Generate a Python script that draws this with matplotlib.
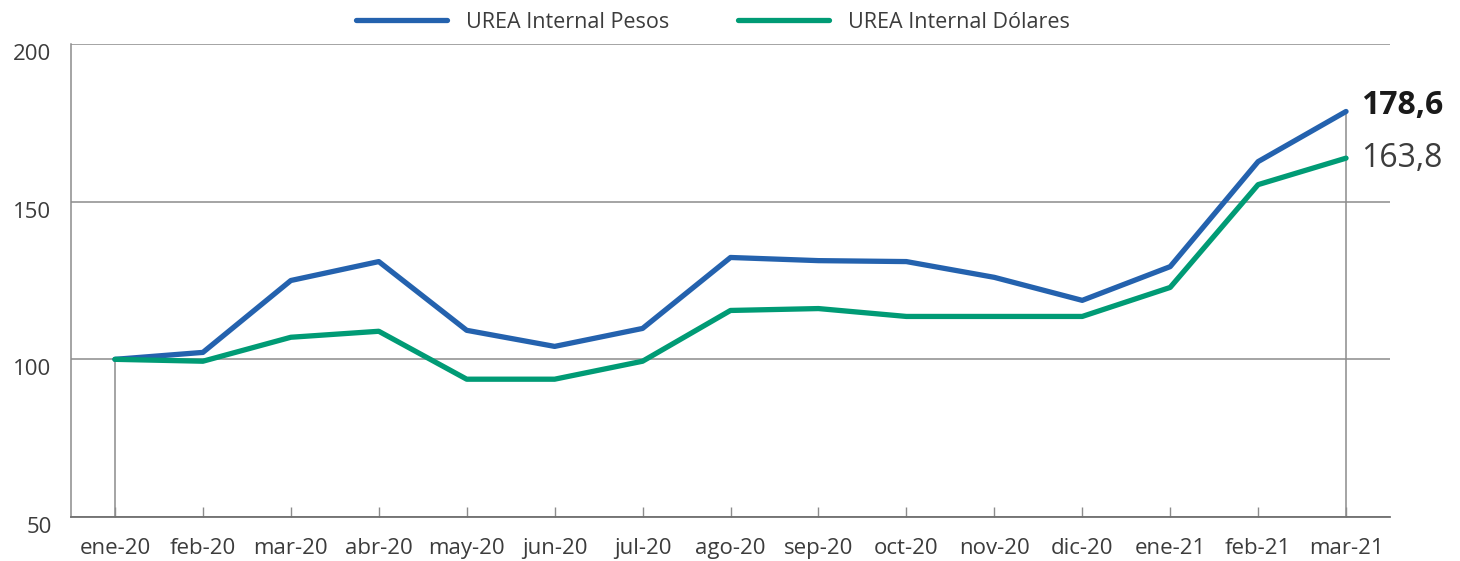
import matplotlib.pyplot as plt
from matplotlib.transforms import ScaledTranslation

# data
months = ['ene-20', 'feb-20', 'mar-20', 'abr-20', 'may-20', 'jun-20', 'jul-20', 'ago-20',
          'sep-20', 'oct-20', 'nov-20', 'dic-20', 'ene-21', 'feb-21', 'mar-21']
pesos = [100, 102.2, 125.0, 131.0, 109.2, 104.1, 109.8, 132.3,
         131.3, 131.0, 126.0, 118.7, 129.4, 162.7, 178.6]
dolares = [100, 99.4, 107.0, 108.9, 93.7, 93.7, 99.4, 115.5,
           116.1, 113.6, 113.6, 113.6, 122.8, 155.4, 163.8]
yticks = [50, 100, 150, 200]

BLUE = '#2462AE'
GREEN = '#009B75'
GRID = '#8c8c8c'
TXT = '#3c3c3c'

plt.rcParams['font.family'] = ['Open Sans', 'DejaVu Sans']

fig = plt.figure(figsize=(14.6, 5.61), dpi=100)
ax = fig.add_axes([71 / 1460, 1 - 517 / 561, (1390 - 71) / 1460, (517 - 44) / 561])

x = list(range(len(months)))
ax.plot(x, pesos, color=BLUE, lw=3.8, solid_capstyle='round', solid_joinstyle='round',
        label='UREA Internal Pesos', zorder=3)
ax.plot(x, dolares, color=GREEN, lw=3.8, solid_capstyle='round', solid_joinstyle='round',
        label='UREA Internal Dólares', zorder=3)

# drop lines at first and last month
ax.vlines([x[0]], 50, pesos[0], color=GRID, lw=1.1, zorder=1)
ax.vlines([x[-1]], 50, pesos[-1], color=GRID, lw=1.1, zorder=1)

ax.set_xlim(-0.5, 14.5)
ax.set_ylim(50, 200)
ax.set_yticks(yticks)
ax.set_xticks(x)
ax.set_xticklabels(months)
ax.yaxis.grid(True, color=GRID, lw=1.1)
ax.set_axisbelow(True)

for s in ['top', 'right']:
    ax.spines[s].set_visible(False)
ax.spines['left'].set_color(GRID)
ax.spines['bottom'].set_color('#707070')
ax.spines['left'].set_linewidth(1.1)
ax.spines['bottom'].set_linewidth(1.3)

ax.tick_params(axis='x', direction='in', length=7, width=1, color=GRID,
               labelsize=16, labelcolor=TXT, pad=15)
ax.tick_params(axis='y', length=0, labelsize=16, labelcolor=TXT, pad=14)
off = ScaledTranslation(0, -8 / 100, fig.dpi_scale_trans)
for lbl in ax.get_yticklabels():
    lbl.set_transform(lbl.get_transform() + off)

ax.annotate(f'{pesos[-1]:.1f}'.replace('.', ','), xy=(x[-1], pesos[-1]),
            xytext=(11, 4), textcoords='offset points', va='center', ha='left',
            fontsize=23, fontweight='bold', color='#1a1a1a')
ax.annotate(f'{dolares[-1]:.1f}'.replace('.', ','), xy=(x[-1], dolares[-1]),
            xytext=(11, 0), textcoords='offset points', va='center', ha='left',
            fontsize=23, color=TXT)

fig.legend(loc='center', bbox_to_anchor=(713 / 1460, 1 - 22 / 561), ncol=2, frameon=False,
           fontsize=15.5, labelcolor=TXT, handlelength=4.2, handletextpad=0.9,
           columnspacing=3.2)

fig.savefig('out.png', dpi=100)
